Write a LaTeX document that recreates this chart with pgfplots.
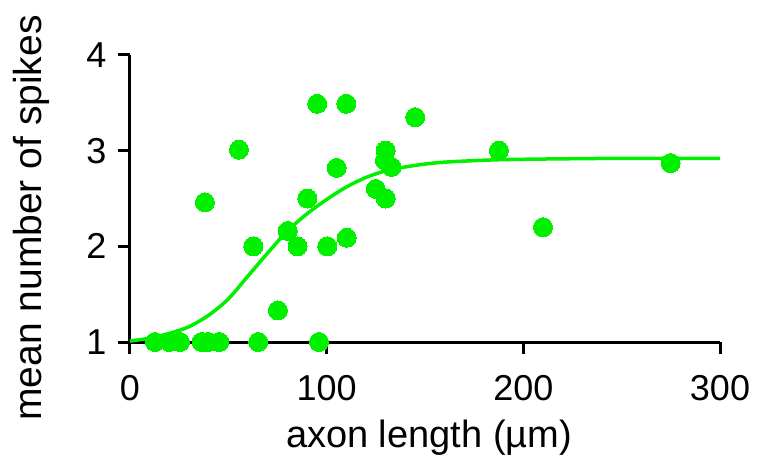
\documentclass[border=0pt]{standalone}
\usepackage{fontspec}
\setmainfont{Liberation Sans}
\usepackage{pgfplots}
\pgfplotsset{compat=1.18}
\usetikzlibrary{calc}
\definecolor{spkgreen}{HTML}{00F000}

\begin{document}
\begin{tikzpicture}
\begin{axis}[
  name=ax,
  scale only axis, width=590pt, height=287pt,
  xmin=0, xmax=300, ymin=1, ymax=4,
  axis lines=left,
  axis line style={line width=3pt, -},
  xtick={0,100,200,300}, ytick={1,2,3,4},
  tick align=outside, major tick length=12pt,
  tick style={line width=3pt, black},
  ticklabel style={font=\fontsize{36}{36}\selectfont},
  xticklabel style={yshift=-18pt},
  yticklabel style={xshift=-8pt},
  /pgf/number format/assume math mode=true,
  clip=false,
]
  % fitted curve
  \addplot[spkgreen, line width=3.5pt, smooth, no marks] coordinates {
    (0,1.01) (10,1.04) (20,1.09) (30,1.16) (40,1.28) (50,1.45)
    (60,1.69) (70,1.93) (80,2.16) (90,2.34) (100,2.49) (110,2.62)
    (120,2.72) (130,2.79) (140,2.83) (150,2.86) (160,2.88)
    (180,2.90) (200,2.91) (250,2.92) (300,2.92)
  };
  % individual cells
  \addplot[spkgreen, only marks, mark=*, mark size=9.5pt,
           mark options={draw=spkgreen, fill=spkgreen, line width=0pt}] coordinates {
    (12.7,1) (20,1) (25.4,1) (36.4,1) (39.8,1) (45.4,1) (65.2,1) (96.1,1)
    (75.2,1.33) (38.1,2.46) (55.4,3.01) (62.7,2.0) (80.2,2.16) (85.2,2.0)
    (90.2,2.50) (95.2,3.49) (110,3.49) (100.3,2.0) (110.2,2.09)
    (105.1,2.82) (125,2.60) (130,2.50) (130,3.0) (129.6,2.90) (133,2.83)
    (145,3.35) (187.6,3.0) (210,2.20) (274.9,2.87)
  };
\end{axis}
\node[rotate=90, anchor=base, font=\fontsize{39}{39}\selectfont]
  at ($(ax.south west)+(-88pt,124pt)$) {mean number of spikes};
\node[anchor=base, font=\fontsize{38}{38}\selectfont]
  at ($(ax.south west)+(299pt,-105pt)$) {axon length (µm)};
\pgfresetboundingbox
\path[use as bounding box] ($(ax.south west)+(-130pt,-121pt)$)
  rectangle ($(ax.south west)+(629pt,342pt)$);
\end{tikzpicture}
\end{document}
